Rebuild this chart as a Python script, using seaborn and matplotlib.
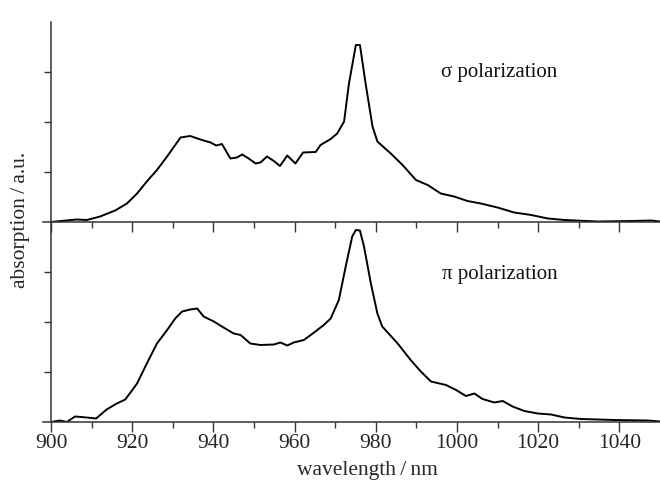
import matplotlib
matplotlib.use("Agg")
import matplotlib.pyplot as plt
import seaborn as sns
import pandas as pd

# sigma polarization (top panel)
sigma_nm = [900, 906.3, 908.8, 912.1, 915.8, 918.7, 921.2, 923.6, 926.1, 928.6, 930.6, 931.9,
            934.3, 936.8, 939.3, 940.7, 942.1, 944.2, 945.8, 947.1, 948.7, 950.4, 951.6, 953.2,
            954.9, 956.4, 958.2, 960.2, 962.1, 965.2, 966.4, 968.9, 970.5, 972.2, 973.4, 975.1,
            976.1, 977.5, 979.2, 980.4, 983.7, 986.6, 989.9, 992.8, 996.0, 999.3, 1002.6, 1005.9,
            1010.0, 1014.1, 1018.3, 1022.4, 1026.5, 1034.7, 1043.0, 1047.9, 1050]
sigma_abs = [0.0, 0.05, 0.04, 0.11, 0.23, 0.37, 0.57, 0.81, 1.04, 1.31, 1.54, 1.69,
             1.72, 1.65, 1.59, 1.53, 1.56, 1.27, 1.29, 1.35, 1.27, 1.17, 1.19, 1.31,
             1.22, 1.12, 1.33, 1.17, 1.39, 1.40, 1.54, 1.66, 1.77, 2.01, 2.77, 3.54,
             3.54, 2.77, 1.91, 1.61, 1.37, 1.14, 0.84, 0.74, 0.57, 0.51, 0.42, 0.37,
             0.29, 0.19, 0.14, 0.07, 0.04, 0.01, 0.02, 0.03, 0.01]

# pi polarization (bottom panel)
pi_nm = [900, 902.2, 903.9, 905.9, 908.8, 911.1, 913.7, 916.2, 918.3, 921.2, 923.6, 926.1,
         928.6, 930.6, 932.3, 934.3, 936.0, 937.6, 940.1, 942.5, 945.0, 946.7, 949.1, 951.6,
         954.9, 956.5, 958.2, 959.8, 962.3, 964.8, 967.2, 968.9, 970.9, 972.6, 974.2, 975.1,
         976.1, 977.1, 978.8, 980.4, 981.6, 985.4, 988.6, 991.1, 993.6, 997.3, 999.8, 1002.2,
         1004.3, 1006.3, 1009.2, 1011.3, 1013.7, 1016.6, 1019.9, 1023.2, 1026.5, 1030.6,
         1038.8, 1047.1, 1050]
pi_abs = [0.0, 0.03, 0.0, 0.11, 0.09, 0.07, 0.25, 0.37, 0.45, 0.77, 1.17, 1.57,
          1.84, 2.07, 2.21, 2.25, 2.27, 2.11, 2.01, 1.89, 1.77, 1.74, 1.57, 1.54,
          1.55, 1.59, 1.53, 1.59, 1.64, 1.79, 1.94, 2.07, 2.44, 3.11, 3.71, 3.84,
          3.83, 3.51, 2.77, 2.17, 1.91, 1.57, 1.24, 1.01, 0.81, 0.74, 0.64, 0.52,
          0.57, 0.46, 0.39, 0.42, 0.31, 0.22, 0.17, 0.15, 0.09, 0.06,
          0.04, 0.03, 0.01]

x_ticks = [900, 920, 940, 960, 980, 1000, 1020, 1040]
x_tick_labels = ["900", "920", "940", "960", "980", "1000", "1020", "1040"]
labels = ["σ polarization", "π polarization"]

sns.set_style("ticks")
plt.rcParams["font.family"] = ["Liberation Serif", "DejaVu Serif"]
plt.rcParams["mathtext.fontset"] = "stix"

W, H = 660, 482
fig = plt.figure(figsize=(W / 100, H / 100), dpi=100)

left = 42.9 / W
width = (659.9 - 42.9) / W
ax_top = fig.add_axes([left, (H - 222) / H, width, 200 / H])
ax_bot = fig.add_axes([left, (H - 422) / H, width, 200 / H])

df_s = pd.DataFrame({"nm": sigma_nm, "abs": sigma_abs})
df_p = pd.DataFrame({"nm": pi_nm, "abs": pi_abs})

for ax, df, lab, ty in [(ax_top, df_s, labels[0], 3.0), (ax_bot, df_p, labels[1], 2.96)]:
    sns.lineplot(data=df, x="nm", y="abs", ax=ax, color="black", linewidth=1.4, sort=False)
    ax.set_xlim(898, 1050)
    ax.set_ylim(0, 4)
    ax.spines["left"].set_position(("data", 900))
    ax.spines["top"].set_visible(False)
    ax.spines["right"].set_visible(False)
    for s in ("left", "bottom"):
        ax.spines[s].set_color("#333333")
        ax.spines[s].set_linewidth(1.1)
    ax.set_xticks(x_ticks)
    ax.set_xticks(range(910, 1050, 20), minor=True)
    ax.set_yticks([1, 2, 3])
    ax.set_yticklabels([])
    ax.tick_params(axis="x", which="major", direction="out", length=7, width=1.0,
                   color="#333333", labelsize=15.5, pad=2)
    ax.tick_params(axis="x", which="minor", direction="out", length=4, width=1.0, color="#333333")
    ax.tick_params(axis="y", which="major", direction="out", length=5, width=1.0, color="#333333")
    ax.set_xlabel("")
    ax.set_ylabel("")
    ax.patch.set_alpha(0)
    ax.text(1010.5, ty, lab, fontsize=15, ha="center", va="center", color="#111111")

ax_top.set_xticklabels([])
ax_bot.set_xticklabels(x_tick_labels)

fig.text(367 / W, 1 - 470 / H, "wavelength\u2009/\u2009nm", fontsize=15.5, ha="center", va="center",
         family=["Liberation Serif", "DejaVu Serif"])
fig.text(21 / W, 1 - 220 / H, "absorption\u2009/\u2009a.u.", fontsize=15.5, ha="center", va="center",
         rotation=90, family=["Liberation Serif", "DejaVu Serif"])

fig.savefig("out.png", dpi=100)
